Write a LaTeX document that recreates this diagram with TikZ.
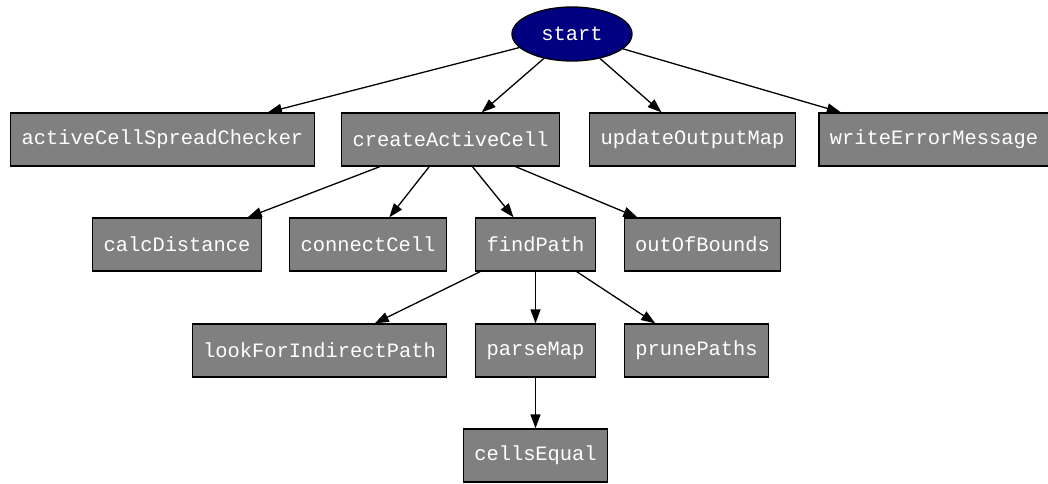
\documentclass[tikz,border=0pt]{standalone}
\usepackage{fontspec}
\setmonofont{Liberation Mono}
\usetikzlibrary{arrows.meta,shapes.geometric}
\definecolor{navyblue}{RGB}{0,0,128}
\definecolor{boxgray}{RGB}{128,128,128}
\tikzset{
  fn/.style={draw=black, line width=1.3pt, fill=boxgray, text=white, rectangle,
    font=\ttfamily\fontsize{20.4}{24}\selectfont, inner xsep=11pt, inner ysep=0pt,
    minimum height=53pt, anchor=center},
  startnode/.style={draw=black, line width=1.3pt, fill=navyblue, text=white, ellipse,
    font=\ttfamily\fontsize{20.4}{24}\selectfont, minimum width=120pt, minimum height=54pt, inner sep=0pt},
  edge/.style={draw=black, line width=1.3pt, -{Triangle[length=14pt,width=10pt]}, shorten >=0pt}
}
\begin{document}
\begin{tikzpicture}[x=1pt,y=1pt]
\useasboundingbox (0,0) rectangle (1048,-483);
\node[startnode] (start) at (572,-34) {start};
\node[fn] (acsc) at (162.5,-139.5) {activeCellSpreadChecker};
\node[fn] (cac) at (450.5,-139.5) {createActiveCell};
\node[fn] (uom) at (692.5,-139.5) {updateOutputMap};
\node[fn] (wem) at (934,-139.5) {writeErrorMessage};
\node[fn] (cd) at (177,-244.5) {calcDistance};
\node[fn] (cc) at (368,-244.5) {connectCell};
\node[fn] (fp) at (535.5,-244.5) {findPath};
\node[fn] (oob) at (702.5,-244.5) {outOfBounds};
\node[fn] (lfip) at (319.5,-350.5) {lookForIndirectPath};
\node[fn] (pm) at (535.5,-350.5) {parseMap};
\node[fn] (pp) at (696.5,-350.5) {prunePaths};
\node[fn] (ce) at (535.5,-455.5) {cellsEqual};
\draw[edge] (start) -- (acsc);
\draw[edge] (start) -- (cac);
\draw[edge] (start) -- (uom);
\draw[edge] (start) -- (wem);
\draw[edge] (cac) -- (cd);
\draw[edge] (cac) -- (cc);
\draw[edge] (cac) -- (fp);
\draw[edge] (cac) -- (oob);
\draw[edge] (fp) -- (lfip);
\draw[edge] (fp) -- (pm);
\draw[edge] (fp) -- (pp);
\draw[edge] (pm) -- (ce);
\end{tikzpicture}
\end{document}
